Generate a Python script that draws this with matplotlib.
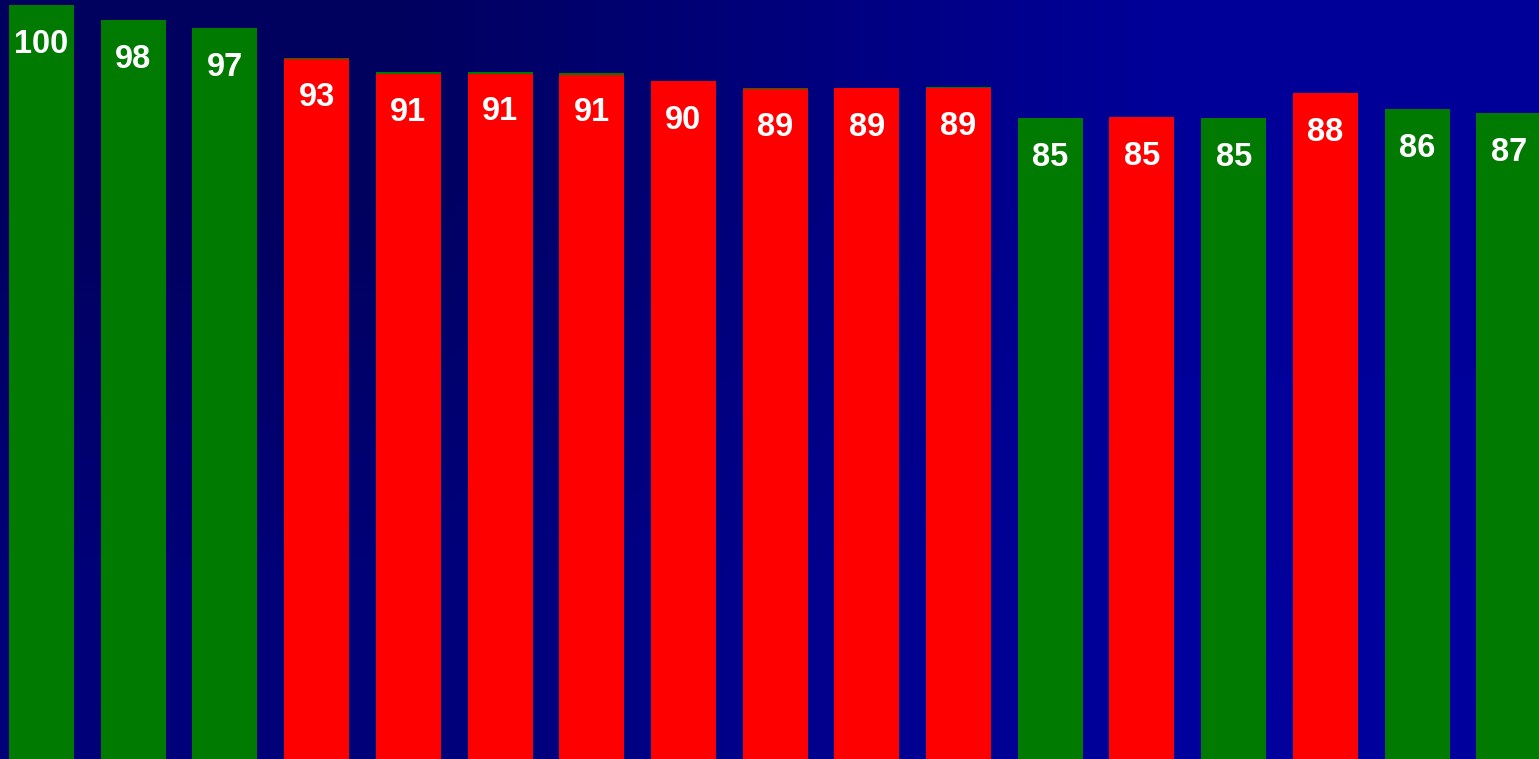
import matplotlib.pyplot as plt
import numpy as np

# 数据: 绿色柱 (全部) 与 红色柱 (覆盖在部分绿色柱上)
green_vals = [100.0, 98.0, 96.95, 92.97, 91.05, 91.1, 91.0, 89.92, 89.0, 89.0, 89.13,
              85.01, 85.14, 85.01, 88.33, 86.2, 85.67]
red_vals = [0, 0, 0, 92.84, 90.8, 90.85, 90.71, 89.92, 88.8, 89.0, 89.0,
            0, 85.14, 0, 88.33, 0, 0]
labels = ["100", "98", "97", "93", "91", "91", "91", "90", "89", "89", "89",
          "85", "85", "85", "88", "86", "87"]

x = np.arange(len(green_vals))

fig = plt.figure(figsize=(15.39, 7.59), dpi=100)
ax = fig.add_axes([0, 0, 1, 1])

# 背景渐变 (左上暗 -> 右下亮)
corners = np.array([[[0, 0, 0x5E / 255], [0, 0, 0x98 / 255]],
                    [[0, 0, 0x78 / 255], [0, 0, 0x9C / 255]]])
ax.imshow(corners, extent=[0, 1, 0, 1], transform=ax.transAxes,
          interpolation='bilinear', aspect='auto', zorder=0)

width = 0.709
ax.bar(x, green_vals, width=width, color='#007A00', zorder=2)
red_x = [i for i, v in enumerate(red_vals) if v > 0]
ax.bar(red_x, [red_vals[i] for i in red_x], width=width, color='#FF0000', zorder=3)

# 数值标签
for i, v in enumerate(green_vals):
    ax.annotate(labels[i], (x[i], v), xytext=(0, -26), textcoords='offset points',
                ha='center', va='center_baseline', color='white', fontsize=23.5,
                fontweight='bold', family='Liberation Sans', zorder=4)

ax.set_xlim(-0.4526, 16.33)
ax.set_ylim(0, 100.66)
ax.axis('off')

fig.savefig('out.png', dpi=100)
